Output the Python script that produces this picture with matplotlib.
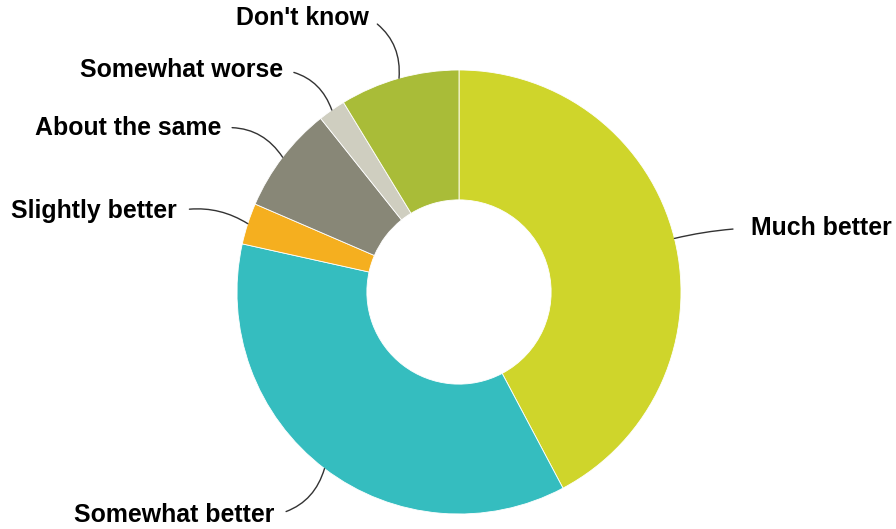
import matplotlib
matplotlib.use("Agg")
import matplotlib.pyplot as plt
import numpy as np

# dados (em %)
categorias = ["Much better", "Somewhat better", "Slightly better",
              "About the same", "Somewhat worse", "Don't know"]
valores = [42.2, 36.2, 3.0, 7.8, 2.0, 8.7]
cores = ["#CFD52B", "#35BDBF", "#F5AF1F", "#888777", "#CFCEC0", "#A9BC38"]

# layout dos rótulos: (x, y em pixels a partir do topo, alinhamento, curvatura, folga)
rotulos = {
    "Much better":     (751, 228, "left", 0.05, 11),
    "Somewhat better": (274, 515, "right", 0.3, 7),
    "Slightly better": (177, 211, "right", -0.2, 7),
    "About the same":  (221, 128, "right", -0.3, 6),
    "Somewhat worse":  (283, 70, "right", -0.3, 6),
    "Don't know":      (369, 18, "right", -0.3, 5),
}

W, H = 896, 529
CX, CY, R = 459, 292, 222  # centro e raio do anel em pixels

fig = plt.figure(figsize=(W / 100, H / 100), dpi=100)
ax = fig.add_axes([0, 0, 1, 1])

wedges, _ = ax.pie(
    valores,
    colors=cores,
    startangle=90,
    counterclock=False,
    radius=1,
    wedgeprops=dict(width=0.585, edgecolor="white", linewidth=0.6),
)

ax.set_aspect("equal")
ax.set_xlim(-CX / R, (W - CX) / R)
ax.set_ylim(-(H - CY) / R, CY / R)
ax.axis("off")

for w, nome in zip(wedges, categorias):
    ang = np.deg2rad((w.theta1 + w.theta2) / 2)
    x, y = np.cos(ang), np.sin(ang)
    tx, ty, ha, rad, folga = rotulos[nome]
    relpos = (0, 0.5) if ha == "left" else (1, 0.5)
    ax.annotate(
        nome,
        xy=(x, y),
        xytext=(tx, H - ty),
        textcoords="figure pixels",
        ha=ha,
        va="center",
        fontsize=17.9,
        fontweight="bold",
        family=["Liberation Sans", "DejaVu Sans"],
        color="black",
        arrowprops=dict(
            arrowstyle="-",
            color="#333333",
            lw=1.0,
            relpos=relpos,
            shrinkA=folga,
            shrinkB=0,
            connectionstyle=f"arc3,rad={rad}",
        ),
    )

fig.savefig("out.png", dpi=100)
plt.close(fig)
